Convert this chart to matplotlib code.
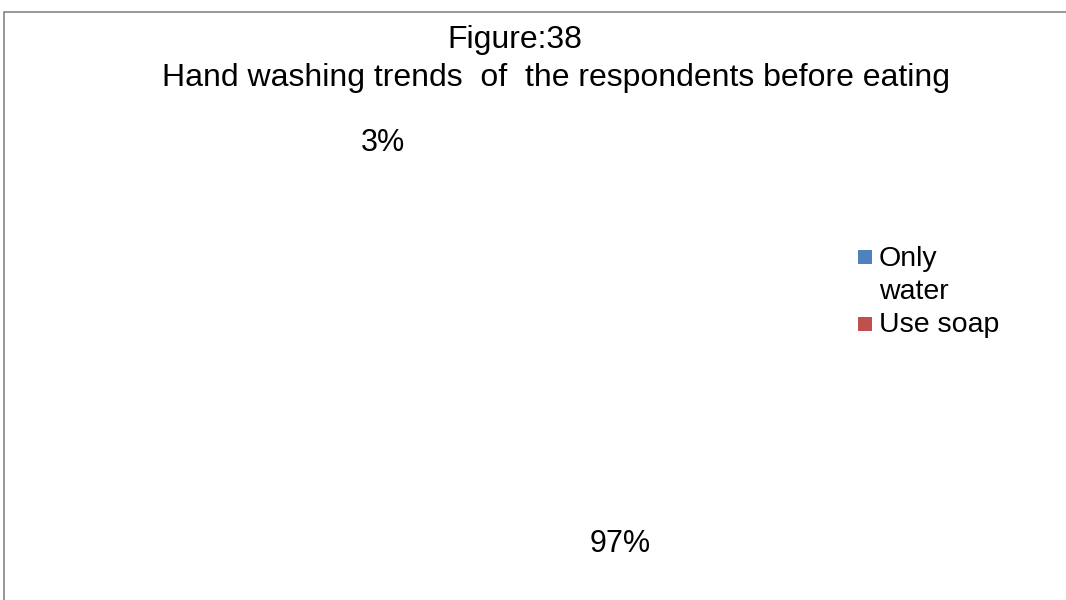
import matplotlib.pyplot as plt
from matplotlib.patches import Rectangle

# Data
labels = ['Only\nwater', 'Use soap']
shares = [3, 97]
legend_colors = ['#4F81BD', '#C0504D']

plt.rcParams['font.family'] = ['Liberation Sans', 'DejaVu Sans']

W, H = 1066, 600
fig = plt.figure(figsize=(W / 100, H / 100), dpi=100)
ax = fig.add_axes([0, 0, 1, 1])

# grey frame of the chart area (only left and top show in the crop)
fig.patches.append(Rectangle((4 / W, -0.1), 1.2, 1.1 - 12 / H,
                             transform=fig.transFigure, fill=False,
                             edgecolor='#868686', linewidth=1.2))

# wedges are white in the original, only the percentages show
R = 190
ax.pie(shares, colors=['white', 'white'], startangle=115.2, radius=R,
       center=(501.5, H - 343.5), autopct='%1.0f%%', pctdistance=232.5 / R,
       wedgeprops=dict(linewidth=0),
       textprops=dict(fontsize=22, color='black'))
ax.set_xlim(0, W)
ax.set_ylim(0, H)
ax.set_aspect('auto')
ax.axis('off')

# first title line is off-centre in the original
fig.text(515 / W, 1 - 40 / H, 'Figure:38', ha='center', va='center', fontsize=23)
fig.text(556.5 / W, 1 - 78 / H, 'Hand washing trends  of  the respondents before eating',
         ha='center', va='center', fontsize=23)

# legend drawn by hand so the marker sits on the first line of a wrapped label
line_h = 33.5
row = 0
for lab, col in zip(labels, legend_colors):
    n = lab.count('\n') + 1
    y = 256.5 + row * line_h
    fig.patches.append(Rectangle((858 / W, 1 - (y + 7) / H), 14 / W, 14 / H,
                                 transform=fig.transFigure, facecolor=col,
                                 edgecolor='none'))
    fig.text(879 / W, 1 - (y + 2 + (n - 1) * line_h / 2) / H, lab, ha='left',
             va='center', fontsize=20.5, linespacing=1.36)
    row += n

fig.savefig('out.png', dpi=100)
